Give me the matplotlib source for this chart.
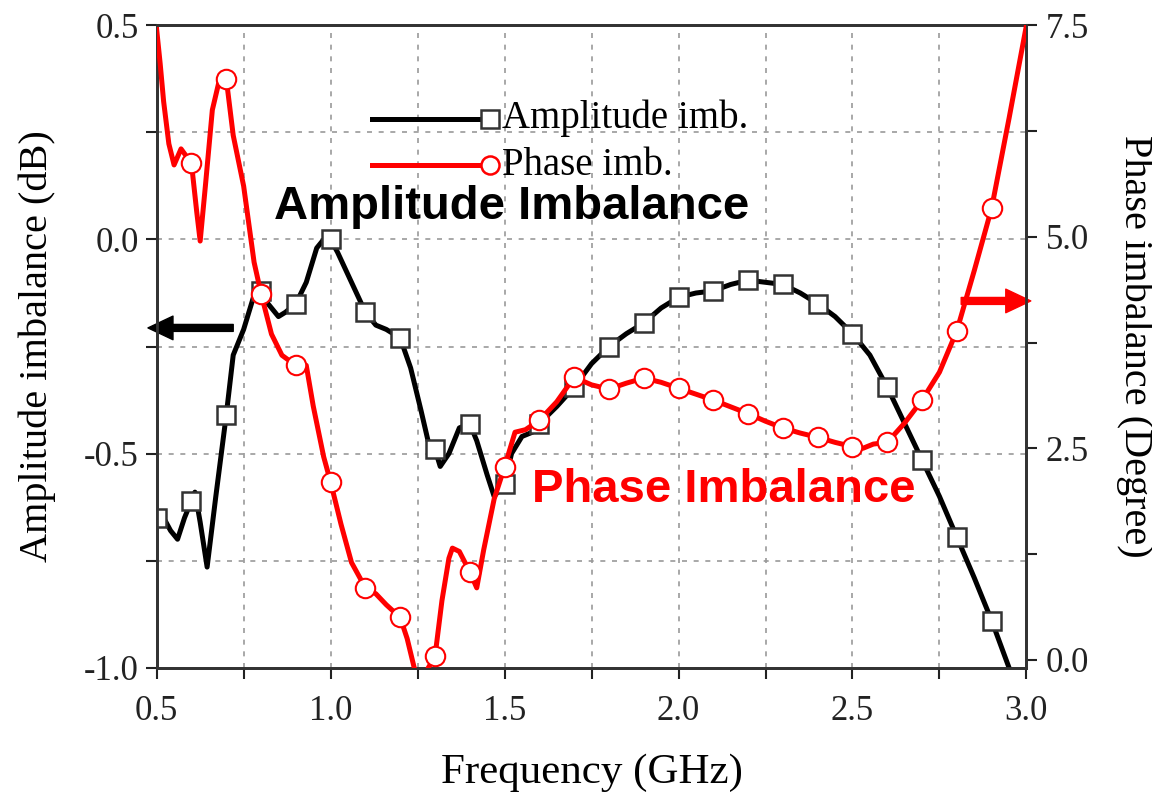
import matplotlib
matplotlib.use("Agg")
import matplotlib.pyplot as plt
import numpy as np
from matplotlib.lines import Line2D
from matplotlib.ticker import MultipleLocator

# amplitude imbalance (dB)
amp_f = [0.50, 0.52, 0.54, 0.56, 0.58, 0.60, 0.61, 0.625, 0.645, 0.67, 0.70, 0.72,
         0.75, 0.78, 0.80, 0.82, 0.85, 0.87, 0.90, 0.93, 0.96, 0.98, 1.00, 1.02,
         1.06, 1.10, 1.13, 1.16, 1.20, 1.23, 1.26, 1.28, 1.30, 1.315, 1.34, 1.37,
         1.40, 1.42, 1.45, 1.47, 1.50, 1.52, 1.55, 1.58, 1.60, 1.65, 1.70, 1.75,
         1.80, 1.85, 1.90, 1.95, 2.00, 2.05, 2.10, 2.15, 2.20, 2.25, 2.30, 2.35,
         2.40, 2.45, 2.50, 2.55, 2.60, 2.65, 2.70, 2.75, 2.80, 2.85, 2.90, 2.95]
amp_db = [-0.65, -0.65, -0.68, -0.70, -0.65, -0.61, -0.59, -0.66, -0.765, -0.60, -0.41, -0.27,
          -0.21, -0.13, -0.12, -0.15, -0.18, -0.17, -0.15, -0.10, -0.02, 0.00, 0.00, -0.03,
          -0.10, -0.17, -0.20, -0.21, -0.23, -0.30, -0.40, -0.47, -0.49, -0.53, -0.50, -0.44,
          -0.43, -0.47, -0.55, -0.60, -0.57, -0.50, -0.46, -0.45, -0.43, -0.39, -0.345, -0.29,
          -0.25, -0.22, -0.195, -0.16, -0.135, -0.125, -0.12, -0.105, -0.095, -0.10, -0.105, -0.125,
          -0.15, -0.18, -0.22, -0.27, -0.345, -0.43, -0.515, -0.60, -0.695, -0.79, -0.89, -1.00]

# phase imbalance (degree)
ph_f = [0.50, 0.51, 0.52, 0.535, 0.55, 0.57, 0.60, 0.615, 0.625, 0.64, 0.66, 0.68,
        0.70, 0.72, 0.75, 0.78, 0.80, 0.83, 0.86, 0.90, 0.93, 0.95, 0.98, 1.00,
        1.03, 1.06, 1.10, 1.13, 1.16, 1.20, 1.22, 1.24, 1.26, 1.28, 1.30, 1.32,
        1.34, 1.35, 1.37, 1.40, 1.42, 1.44, 1.47, 1.50, 1.53, 1.56, 1.60, 1.65,
        1.70, 1.75, 1.80, 1.85, 1.90, 1.95, 2.00, 2.05, 2.10, 2.15, 2.20, 2.25,
        2.30, 2.35, 2.40, 2.45, 2.50, 2.53, 2.56, 2.60, 2.65, 2.70, 2.75, 2.80,
        2.85, 2.90, 2.95, 3.00]
ph_deg = [7.45, 7.05, 6.6, 6.1, 5.85, 6.04, 5.87, 5.3, 4.95, 5.6, 6.5, 6.85,
          6.87, 6.2, 5.6, 4.7, 4.33, 3.85, 3.6, 3.48, 3.48, 3.0, 2.4, 2.1,
          1.6, 1.15, 0.85, 0.78, 0.65, 0.5, 0.25, -0.09, -0.3, -0.1, 0.04, 0.7,
          1.2, 1.32, 1.28, 1.04, 0.85, 1.3, 1.9, 2.28, 2.69, 2.72, 2.83, 3.05,
          3.34, 3.25, 3.2, 3.27, 3.33, 3.28, 3.21, 3.14, 3.07, 2.99, 2.91, 2.82,
          2.74, 2.68, 2.63, 2.57, 2.52, 2.5, 2.55, 2.57, 2.8, 3.07, 3.4, 3.89,
          4.6, 5.34, 6.4, 7.5]

x_ticks = [0.5, 1.0, 1.5, 2.0, 2.5, 3.0]
left_ticks = [-1.0, -0.5, 0.0, 0.5]
right_ticks = [0.0, 2.5, 5.0, 7.5]

plt.rcParams["font.family"] = "Liberation Serif"

def tenth_marks(f, lo, hi):
    # indices of readings that sit on a 0.1 GHz step
    return [i for i, v in enumerate(f)
            if abs(v * 10 - round(v * 10)) < 1e-6 and lo - 1e-9 <= v <= hi + 1e-9]

fig = plt.figure(figsize=(11.52, 7.93), dpi=100)
ax = fig.add_axes([0.136, 0.158, 0.755, 0.810])
ax2 = ax.twinx()

ax.plot(amp_f, amp_db, color="black", lw=3.6, marker="s", ms=13, mfc="white",
        mec="#333333", mew=1.8, markevery=tenth_marks(amp_f, 0.5, 2.9), zorder=3)
ax2.plot(ph_f, ph_deg, color="red", lw=3.6, marker="o", ms=14, mfc="white",
         mec="red", mew=1.5, markevery=tenth_marks(ph_f, 0.6, 2.9), zorder=3)

ax.set_xlim(0.5, 3.0)
ax.set_ylim(-1.0, 0.5)
ax2.set_ylim(-0.094, 7.5)

ax.set_xticks(x_ticks)
ax.set_xticklabels([f"{v:.1f}" for v in x_ticks])
ax.set_yticks(left_ticks)
ax.set_yticklabels([f"{v:.1f}" for v in left_ticks])
ax2.set_yticks(right_ticks)
ax2.set_yticklabels([f"{v:.1f}" for v in right_ticks])
ax.xaxis.set_minor_locator(MultipleLocator(0.25))
ax.yaxis.set_minor_locator(MultipleLocator(0.25))
ax2.yaxis.set_minor_locator(MultipleLocator(1.25))

for a in (ax, ax2):
    a.tick_params(which="both", direction="out", length=8, width=1.5,
                  labelsize=25, colors="#222222")
    for s in a.spines.values():
        s.set_linewidth(2.0)
        s.set_color("#333333")
ax.tick_params(axis="x", pad=12)
ax.tick_params(axis="y", pad=5)
ax2.tick_params(axis="y", pad=6)

ax.grid(True, which="both", linestyle=(0, (3, 4)), color="#999999", lw=1.2)

ax.set_xlabel("Frequency (GHz)", fontsize=31, labelpad=18)
ax.set_ylabel("Amplitude imbalance (dB)", fontsize=29, labelpad=20)
ax2.set_ylabel("Phase imbalance (Degree)", fontsize=29, rotation=270, labelpad=46)

# legend drawn by hand so the marker sits at the end of the line
legend_rows = [("Amplitude imb.", "black", "s", "#333333", 0.855),
               ("Phase imb.", "red", "o", "red", 0.782)]
for label, c, m, mec, yy in legend_rows:
    ax.add_line(Line2D([0.247, 0.383], [yy, yy], transform=ax.transAxes,
                       color=c, lw=3.6, zorder=5))
    ax.add_line(Line2D([0.383], [yy], transform=ax.transAxes, marker=m, ms=13,
                       mfc="white", mec=mec, mew=1.8, zorder=6))
    ax.text(0.397, yy, label, transform=ax.transAxes, fontsize=28,
            va="center", ha="left", zorder=6)

ax.text(1.52, 0.075, "Amplitude Imbalance", fontsize=34, fontweight="bold",
        family="Liberation Sans", color="black", ha="center", va="center", zorder=6)
ax.text(2.13, -0.585, "Phase Imbalance", fontsize=34, fontweight="bold",
        family="Liberation Sans", color="red", ha="center", va="center", zorder=6)

ax.annotate("", xy=(-0.01, 0.529), xytext=(0.088, 0.529), xycoords="axes fraction",
            arrowprops=dict(facecolor="black", edgecolor="black", width=5,
                            headwidth=17, headlength=18), annotation_clip=False)
ax.annotate("", xy=(1.005, 0.571), xytext=(0.925, 0.571), xycoords="axes fraction",
            arrowprops=dict(facecolor="red", edgecolor="red", width=5,
                            headwidth=17, headlength=18), annotation_clip=False)

fig.savefig("out.png", dpi=100)
